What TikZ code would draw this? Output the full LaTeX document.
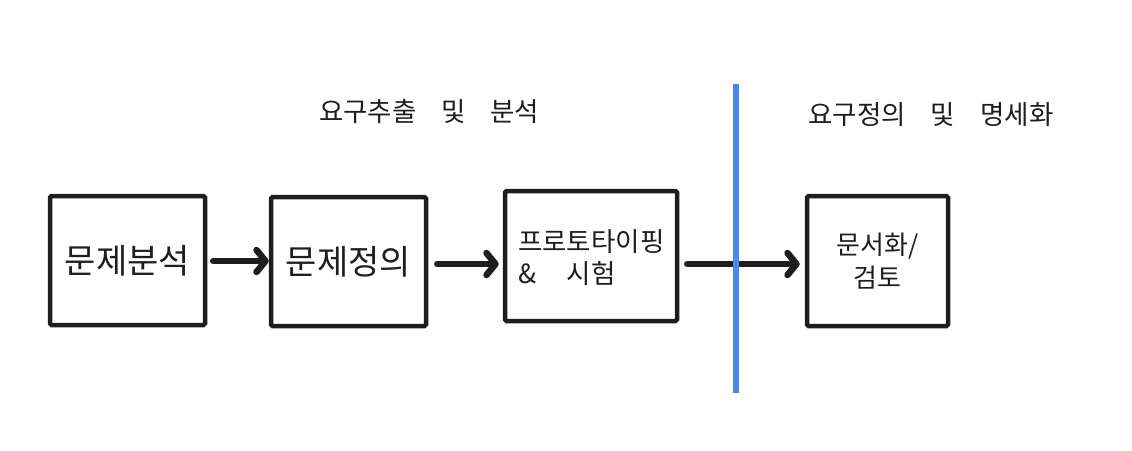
\documentclass[tikz,border=0pt]{standalone}
\usepackage{fontspec}
\setmainfont{Noto Sans CJK KR}
\usetikzlibrary{arrows.meta}
\definecolor{ink}{HTML}{1E1E1E}
\definecolor{divider}{HTML}{4A86E8}
\tikzset{
  box/.style={draw=ink, line width=4.5pt, rounded corners=1.5pt, inner sep=0pt, text=ink},
  flow/.style={draw=ink, line width=6.5pt, line cap=round, -{Straight Barb[round, length=9pt, width=22pt, line width=6.5pt]}},
  title/.style={text=ink, font=\fontsize{26.5}{30}\selectfont, inner sep=0pt},
}
\begin{document}
\begin{tikzpicture}[x=1pt, y=-1pt]
\useasboundingbox (0,0) rectangle (1132,450);
\node[box, minimum width=155pt, minimum height=129pt, font=\fontsize{34}{38}\selectfont] (b1) at (127.5,260.5) {문제분석};
\node[box, minimum width=155pt, minimum height=129pt, font=\fontsize{34}{38}\selectfont] (b2) at (348.5,261.5) {문제정의};
\node[box, minimum width=172pt, minimum height=130pt] (b3) at (591,256) {};
\node[text=ink, font=\fontsize{26.5}{32}\selectfont, align=left, anchor=west, inner sep=0pt] (t3) at (518,258) {프로토타이핑\\\&\hspace{1.15em}시험};
\node[box, minimum width=141pt, minimum height=130pt, font=\fontsize{26}{33}\selectfont, align=center] (b4) at (877.5,261) {문서화/\\검토};
\node[title] (h1) at (429,112) {요구추출\hspace{0.95em}및\hspace{0.9em}분석};
\node[title] (h2) at (931,115) {요구정의\hspace{0.95em}및\hspace{0.95em}명세화};
\coordinate (d1) at (736,84);
\coordinate (d2) at (736,393);
\draw[flow] ([xshift=6pt]b1.east |- 0,261) -- (b2.west |- 0,261);
\draw[flow] ([xshift=9pt]b2.east |- 0,264) -- ([xshift=-4pt]b3.west |- 0,264);
\draw[flow] ([xshift=8pt]b3.east |- 0,264) -- ([xshift=-5pt]b4.west |- 0,264);
\draw[divider, line width=6pt] (d1) -- (d2);
\end{tikzpicture}
\end{document}
